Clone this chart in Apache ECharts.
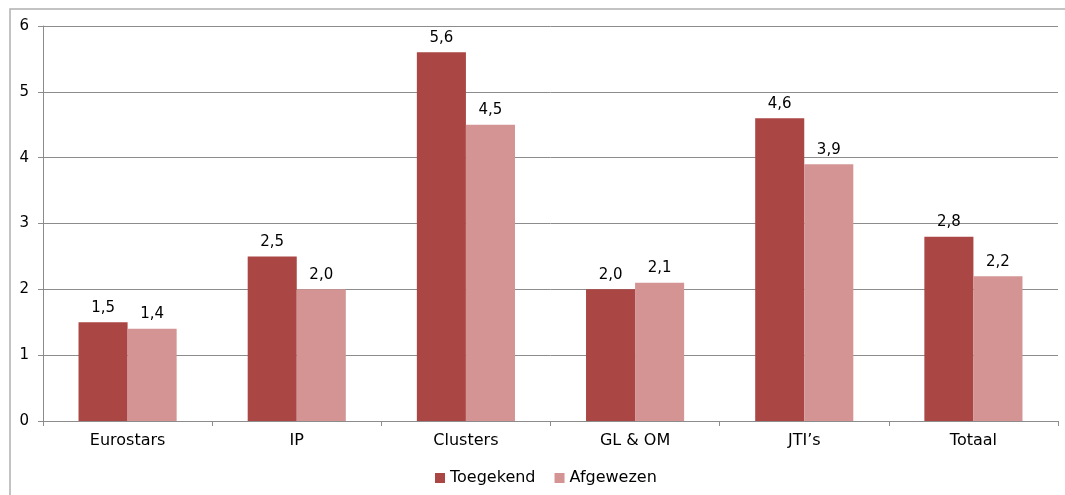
<!DOCTYPE html>
<html><head><meta charset="utf-8">
<script src="https://cdn.jsdelivr.net/npm/echarts@6/dist/echarts.min.js"></script>
<style>html,body{margin:0;padding:0;background:#fff}#c{width:1065px;height:495px}</style>
</head><body><div id="c"></div>
<script>
const categories = ['Eurostars', 'IP', 'Clusters', 'GL & OM', 'JTI\u2019s', 'Totaal'];
const toegekend = [1.5, 2.5, 5.6, 2.0, 4.6, 2.8];
const afgewezen = [1.4, 2.0, 4.5, 2.1, 3.9, 2.2];
const seriesNames = ['Toegekend', 'Afgewezen'];
const font = 'DejaVu Sans, Verdana, sans-serif';
const chart = echarts.init(document.getElementById('c'), null, {renderer: 'canvas'});
const lbl = {show: true, position: 'top', distance: 7, color: '#000', fontFamily: font, fontSize: 15,
  formatter: p => p.value.toFixed(1).replace('.', ',')};
chart.setOption({
  animation: false,
  graphic: [{type: 'polyline', shape: {points: [[10, 600], [10, 9], [1200, 9]]}, style: {fill: null, stroke: '#b0b0b0', lineWidth: 1.5}, z: -1}],
  grid: {left: 43, right: 7, top: 26, bottom: 74},
  legend: {top: 465, left: 430, itemWidth: 10, itemHeight: 10, itemGap: 19, icon: 'rect',
    textStyle: {fontFamily: font, fontSize: 16, color: '#000'}, data: seriesNames},
  xAxis: {type: 'category', data: categories,
    axisLine: {lineStyle: {color: '#8c8c8c'}},
    axisTick: {show: true, length: 5, lineStyle: {color: '#8c8c8c'}},
    axisLabel: {color: '#000', fontFamily: font, fontSize: 16, margin: 12}},
  yAxis: {type: 'value', min: 0, max: 6, interval: 1,
    axisLine: {show: true, lineStyle: {color: '#8c8c8c'}},
    axisTick: {show: true, length: 5, lineStyle: {color: '#8c8c8c'}},
    splitLine: {lineStyle: {color: '#8c8c8c'}},
    axisLabel: {color: '#000', fontFamily: font, fontSize: 15, margin: 14}},
  series: [
    {name: seriesNames[0], type: 'bar', data: toegekend, itemStyle: {color: '#AA4643'}, barGap: '0%', barCategoryGap: '42%', label: lbl},
    {name: seriesNames[1], type: 'bar', data: afgewezen, itemStyle: {color: '#D39493'}, label: lbl}
  ]
});
</script></body></html>
